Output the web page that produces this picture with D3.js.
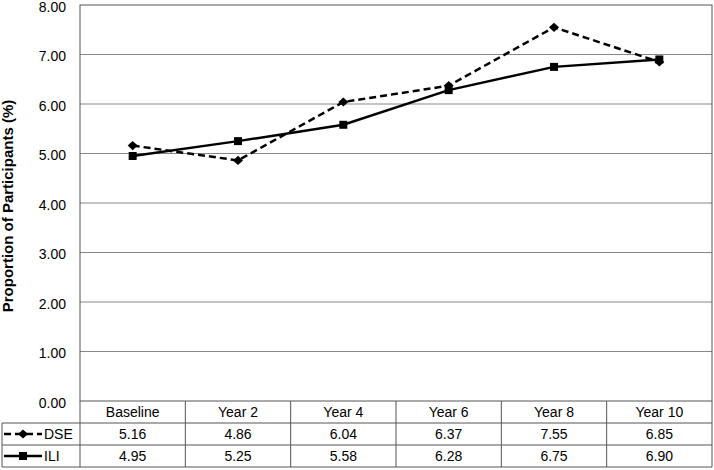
<!DOCTYPE html>
<html><head><meta charset="utf-8">
<script src="https://cdn.jsdelivr.net/npm/d3@7"></script>
<style>body{margin:0;background:#fff}text{font-family:"Liberation Sans",Arial,sans-serif}</style>
</head><body><svg id="c" width="714" height="470"></svg>
<script>
const categories = ["Baseline","Year 2","Year 4","Year 6","Year 8","Year 10"];
const dse = [5.16,4.86,6.04,6.37,7.55,6.85];
const ili = [4.95,5.25,5.58,6.28,6.75,6.90];
const yTicks = [0,1,2,3,4,5,6,7,8];
const seriesNames = ["DSE","ILI"];

const svg = d3.select("#c");
const L = 80, R = 712, T = 5, B = 401;
const FS = 14;
const x = d3.scaleBand().domain(categories).range([L, R]).padding(0);
const y = d3.scaleLinear().domain([0, 8]).range([B, T]);
const border = "#555";

svg.append("g").selectAll("line").data(yTicks.filter(d => d > 0 && d < 8)).join("line")
  .attr("x1", L).attr("x2", R).attr("y1", d => y(d)).attr("y2", d => y(d))
  .attr("stroke", "#888").attr("stroke-width", 1);
svg.append("rect").attr("x", L).attr("y", T).attr("width", R - L).attr("height", B - T)
  .attr("fill", "none").attr("stroke", border).attr("stroke-width", 1);

const yAxis = d3.axisLeft(y).tickValues(yTicks).tickFormat(d3.format(".2f")).tickSize(0).tickPadding(14);
const ga = svg.append("g").attr("transform", `translate(${L},0)`).call(yAxis);
ga.select(".domain").remove();
ga.selectAll("text").attr("font-size", FS).attr("fill", "#000").attr("dy", "0.45em")
  .style("font-family", '"Liberation Sans",Arial,sans-serif');

svg.append("text").attr("transform", `translate(13,206) rotate(-90)`)
  .attr("text-anchor", "middle").attr("font-size", 15).attr("font-weight", "bold")
  .text("Proportion of Participants (%)");

const cx = d => x(d) + x.bandwidth() / 2;
const line = d3.line().x((d, i) => cx(categories[i])).y(d => y(d));

svg.append("path").datum(ili).attr("d", line).attr("fill", "none")
  .attr("stroke", "#000").attr("stroke-width", 2.5);
svg.append("path").datum(dse).attr("d", line).attr("fill", "none")
  .attr("stroke", "#000").attr("stroke-width", 2.5).attr("stroke-dasharray", "7,4");

const sq = "M-4,-4H4V4H-4Z";
const di = "M0,-4.6L5,0L0,4.6L-5,0Z";
svg.append("g").selectAll("path").data(ili).join("path")
  .attr("d", sq).attr("transform", (d, i) => `translate(${cx(categories[i])},${y(d)})`).attr("fill", "#000");
svg.append("g").selectAll("path").data(dse).join("path")
  .attr("d", di).attr("transform", (d, i) => `translate(${cx(categories[i])},${y(d)})`).attr("fill", "#000");

const rowsY = [401, 423, 445, 467];
const tb = svg.append("g");
[1, 2, 3].forEach(k => {
  tb.append("line").attr("x1", 2).attr("x2", R).attr("y1", rowsY[k]).attr("y2", rowsY[k]).attr("stroke", border);
});
const vx = categories.map(c => x(c)).concat([R]);
tb.selectAll("line.v").data(vx).join("line").attr("class", "v")
  .attr("x1", d => d).attr("x2", d => d).attr("y1", rowsY[0]).attr("y2", rowsY[3]).attr("stroke", border);
tb.append("line").attr("x1", 2).attr("x2", 2).attr("y1", rowsY[1]).attr("y2", rowsY[3]).attr("stroke", border);

tb.selectAll("text.h").data(categories).join("text").attr("class", "h")
  .attr("x", d => cx(d)).attr("y", (rowsY[0] + rowsY[1]) / 2 + 5)
  .attr("text-anchor", "middle").attr("font-size", FS).text(d => d);
[dse, ili].forEach((s, r) => {
  const ym = (rowsY[r + 1] + rowsY[r + 2]) / 2;
  tb.selectAll("text.r" + r).data(s).join("text").attr("class", "r" + r)
    .attr("x", (d, i) => cx(categories[i])).attr("y", ym + 5)
    .attr("text-anchor", "middle").attr("font-size", FS).text(d => d3.format(".2f")(d));
  tb.append("line").attr("x1", 4).attr("x2", 42).attr("y1", ym).attr("y2", ym)
    .attr("stroke", "#000").attr("stroke-width", 2.5)
    .attr("stroke-dasharray", r === 0 ? "7,4" : null);
  tb.append("path").attr("d", r === 0 ? di : sq).attr("transform", `translate(23,${ym})`).attr("fill", "#000");
  tb.append("text").attr("x", 44).attr("y", ym + 5).attr("font-size", FS).text(seriesNames[r]);
});
</script></body></html>
